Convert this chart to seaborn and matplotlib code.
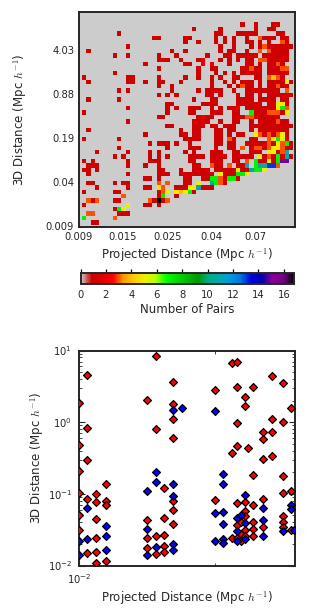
import numpy as np
import pandas as pd
import matplotlib
matplotlib.use("Agg")
import matplotlib.pyplot as plt
from matplotlib.ticker import FixedLocator, NullFormatter
import seaborn as sns

W, H = 316, 616
HEAT_X_LABELS = ["0.009", "0.015", "0.025", "0.04", "0.07"]
HEAT_Y_LABELS = ["0.009", "0.04", "0.19", "0.88", "4.03"]
CBAR_TICKS = [0, 2, 4, 6, 8, 10, 12, 14, 16]

# occupied bins of each row (top row first): bins holding one pair, as "first-last" runs
ONE_PAIR_BINS = {
3: "37 40 44-45",
4: "26 32 40 43-44",
5: "9 31-32 36-40 45-46",
6: "17-18 24-25 31 33 35 38 42-44 46-47",
7: "24 27 31 33 35 38-39 41 43 47",
8: "11 32 35 39 41 43-48",
9: "2 21 24 32 34-35 38 44-47",
10: "8 11 18 22 29 33-34 36-40 42-47",
11: "18-20 23 27 32 34 36 38-39 43-47",
12: "15 24-25 34 38-39 41 43-44 46",
13: "18 27 30-31 37-38 40-41 43-45",
14: "8 27 31 33 35 37-41 43-47",
15: "1 11-12 18 24 27 30 32 35-36 40-41 46",
16: "2 11-12 15 18-19 23 30 33 35 37-39 41 43-46 48",
17: "18 21 30 34 36 38-39 41 43-44 46-47",
18: "9 11 21 27 29-32 35 38-45",
19: "18 20 22 29-30 32 36 38-39 41 43-48",
20: "2 9 26 30-31 36-39 41-44 46-47",
21: "20-21 28-31 36-41 43-44 47",
22: "11 20 22 25-27 30 32 34-35 38-44",
23: "1 20 25-26 30-32 35-36 40-42 46",
24: "18-19 27 29-30 35-37 40-45",
25: "11 26-29 32 35-36 39 41-44 46-47",
26: "20-21 26-28 30-31 33-35 39-48",
27: "2 23 26-27 31-32 34-35 39 41-47",
28: "15 23-24 26-27 31-32 34 36-37 42 44 47",
29: "1 9 24-27 31-32 35 39-40 47",
30: "16 18-20 22 25 31-32 34-35 38-42 44 48",
31: "9 20 25-27 31 34-35 39 42 47-48",
32: "4 11 16 18 24 26 30-32 35-36 39-41 45",
33: "8 10 16 18 20 25-28 30-33 35-39 42 44 46 48",
34: "1 3 11 16-18 25-26 30-32 35-36 41-42 44",
35: "2-4 11 15 18 26-27 31-32 36-37",
36: "1-2 4 18-19 23 26-29 31-35 37-38",
37: "2 11 18-20 23-30 33-35",
38: "15-16 18 24-25 28-29 33 36",
39: "2-3 8 10-11 24-25 33",
40: "4 11 15-16 22-24 28-30",
41: "1 8-9 18 26",
42: "18 22",
43: "3 8-9 17 19",
44: "1 15-16 18",
45: "8",
46: "9-11",
48: "3-4",
}
# bins holding more pairs, as "bin:count" with the count in base 36
BUSY_BINS = {
6: "41:3",
7: "46:3",
8: "42:3",
9: "41:3 43:3",
11: "28:2 41:3 42:3",
12: "28:2 30:2 45:3",
13: "39:3 46:3 47:3",
15: "43:3 44:4 45:3",
16: "47:5",
17: "37:3 45:3",
18: "47:3",
21: "45:5 46:5",
22: "36:2 45:5 46:7 47:3",
23: "39:7 43:3 44:3 45:3 47:5",
24: "28:2 38:3 39:3",
25: "45:3",
28: "40:5 41:3 43:3 45:3 46:5",
29: "34:3 43:3 44:5 45:7 46:5",
30: "43:3 45:5 46:3 47:7",
31: "37:3 40:3 41:3 43:3 44:5 45:5 46:3",
32: "43:5 44:5 46:3 47:b",
33: "41:5 43:3 45:7 47:b",
34: "38:3 40:7 43:5 45:7 46:f 47:f",
35: "30:3 34:3 38:b 40:7 41:b 42:b 43:d 44:d 45:3",
36: "36:5 39:b 40:7 41:7 42:5",
37: "32:5 36:7 37:7 38:5",
38: "30:7 31:7 32:3 34:7 35:7",
39: "18:3 20:3 27:5 30:b 31:7 32:3",
40: "18:5 19:3 25:5 26:5 27:b",
41: "19:3 20:5 22:5 23:4 24:5 25:7",
42: "10:3 19:7",
43: "2:3 4:3 16:3 18:h 20:3",
44: "11:5",
45: "9:7 10:5",
46: "2:3 3:3",
47: "1:7 8:3",
49: "1:5",
}

RED_X = [0.0109, 0.0109, 0.0109, 0.0100, 0.0100, 0.0218, 0.0218, 0.0200, 0.0260, 0.0260, 0.0260, 0.0260,
         0.0398, 0.0472, 0.0472, 0.0497, 0.0497, 0.0497, 0.0497, 0.0541, 0.0541, 0.0590, 0.0560,
         0.0647, 0.0647, 0.0647, 0.0715, 0.0715, 0.0715, 0.0715, 0.0795, 0.0795, 0.0864,
         0.0100, 0.0100, 0.0100, 0.0100, 0.0109, 0.0109, 0.0119, 0.0119, 0.0119, 0.0119, 0.0119, 0.0119,
         0.0131, 0.0131, 0.0131, 0.0131, 0.0200, 0.0200, 0.0200, 0.0218, 0.0218, 0.0238, 0.0238, 0.0238, 0.0238, 0.0238,
         0.0260, 0.0260, 0.0260, 0.0398, 0.0472, 0.0497, 0.0497, 0.0497, 0.0520, 0.0520, 0.0520,
         0.0541, 0.0541, 0.0541, 0.0541, 0.0541, 0.0590, 0.0590, 0.0590, 0.0590, 0.0590,
         0.0647, 0.0647, 0.0795, 0.0795, 0.0795, 0.0795, 0.0795, 0.0864, 0.0864]
RED_Y = [4.57, 0.824, 0.295, 1.84, 0.483, 8.43, 0.798, 2.05, 3.61, 1.80, 1.10, 0.611,
         2.82, 6.59, 0.373, 6.87, 3.08, 0.968, 0.462, 2.21, 1.66, 3.05, 0.433,
         0.724, 0.585, 0.311, 4.38, 1.10, 0.724, 0.339, 3.57, 1.02, 1.60,
         0.205, 0.102, 0.0509, 0.0315, 0.0843, 0.0149, 0.0989, 0.0773, 0.0448, 0.0243, 0.0153, 0.0108,
         0.138, 0.0807, 0.0695, 0.0114, 0.0425, 0.0243, 0.0173, 0.0254, 0.0147, 0.121, 0.0462, 0.0268, 0.0188, 0.0153,
         0.0807, 0.0598, 0.0381, 0.0824, 0.0243, 0.0748, 0.0373, 0.0243, 0.0411, 0.0274, 0.0223,
         0.0766, 0.0567, 0.0483, 0.0308, 0.0254, 0.186, 0.0703, 0.0411, 0.0325, 0.0262,
         0.0843, 0.0343, 0.175, 0.104, 0.0493, 0.0411, 0.0350, 0.109, 0.0315]
BLUE_X = [0.0260, 0.0286, 0.0398, 0.0100, 0.0100, 0.0109, 0.0109, 0.0131, 0.0131, 0.0131, 0.0200, 0.0200, 0.0200,
          0.0218, 0.0218, 0.0218, 0.0260, 0.0260, 0.0260, 0.0260, 0.0398, 0.0398, 0.0434, 0.0434, 0.0434, 0.0434, 0.0434, 0.0434,
          0.0497, 0.0497, 0.0497, 0.0520, 0.0541, 0.0541, 0.0541, 0.0647, 0.0647, 0.0647, 0.0795, 0.0864, 0.0864, 0.0894]
BLUE_Y = [1.50, 1.57, 1.45, 0.0223, 0.0141, 0.0631, 0.0236, 0.0361, 0.0254, 0.0162, 0.111, 0.0328, 0.0141,
          0.199, 0.147, 0.0180, 0.138, 0.0938, 0.0200, 0.0162, 0.0537, 0.0223, 0.190, 0.138, 0.0561, 0.0378, 0.0236, 0.0209,
          0.0457, 0.0305, 0.0223, 0.0509, 0.0968, 0.0390, 0.0233, 0.0631, 0.0425, 0.0256, 0.0305, 0.0703, 0.0611, 0.0315]

sns.set_style("ticks")
plt.rcParams["font.family"] = ["DejaVu Sans"]
plt.rcParams["mathtext.fontset"] = "cm"

def box(l, t, r, b):
    return [l / W, 1 - b / H, (r - l) / W, (b - t) / H]

fig = plt.figure(figsize=(W / 100, H / 100), dpi=100)
ax1 = fig.add_axes(box(79, 12, 295, 227))
cax = fig.add_axes(box(80.5, 273.5, 294, 284))
ax2 = fig.add_axes(box(79, 350.5, 295, 565.5))

N = 50
counts = np.zeros((N, N), dtype=int)
for k, spec in ONE_PAIR_BINS.items():
    for part in spec.split():
        a, _, b = part.partition("-")
        counts[k, int(a):int(b or a) + 1] = 1
for k, spec in BUSY_BINS.items():
    for part in spec.split():
        a, b = part.split(":")
        counts[k, int(a)] = int(b, 36)

sns.heatmap(pd.DataFrame(counts), ax=ax1, cmap="nipy_spectral_r", vmin=0, vmax=16.8, cbar_ax=cax,
            cbar_kws={"orientation": "horizontal", "ticks": CBAR_TICKS}, square=False)
left, right, top, bottom = 0.39, 49.37, 0.62, 49.53
ax1.set_xlim(left, right)
ax1.set_ylim(bottom, top)
ax1.set_xticks([left + 10 * i for i in range(5)], HEAT_X_LABELS, rotation=0)
ax1.set_yticks([bottom - 10 * i for i in range(5)], HEAT_Y_LABELS, rotation=0)
ax1.tick_params(direction="in", top=True, right=True, bottom=True, left=True, length=3, width=0.8,
                labelsize=7.2, pad=3.5)
for s in ax1.spines.values():
    s.set_visible(True)
    s.set_linewidth(1.4)
ax1.set_xlabel(r"Projected Distance (Mpc $h^{-1}$)", fontsize=8.5, labelpad=3)
ax1.set_ylabel(r"3D Distance (Mpc $h^{-1}$)", fontsize=8.5, labelpad=12)

cax.tick_params(direction="in", length=10.5, width=0.9, labelsize=7.2, pad=4.5, bottom=True, color="black")
cax.set_xlabel("Number of Pairs", fontsize=8.5, labelpad=2)
for s in cax.spines.values():
    s.set_visible(True)
    s.set_linewidth(1.2)

sns.scatterplot(x=RED_X, y=RED_Y, ax=ax2, marker="D", s=16, color=(1, 0, 0), edgecolor="black", linewidth=0.9, zorder=3)
sns.scatterplot(x=BLUE_X, y=BLUE_Y, ax=ax2, marker="D", s=16, color=(0, 0, 1), edgecolor="black", linewidth=0.9, zorder=3)
ax2.set_xscale("log")
ax2.set_yscale("log")
ax2.set_xlim(0.01, 0.09)
ax2.set_ylim(0.01, 10)
ax2.xaxis.set_major_locator(FixedLocator([0.01]))
ax2.xaxis.set_minor_locator(FixedLocator([0.04]))
ax2.xaxis.set_minor_formatter(NullFormatter())
ax2.tick_params(which="major", direction="in", top=True, right=True, length=4, width=0.8, labelsize=7.2, pad=5)
ax2.tick_params(which="minor", direction="in", top=True, right=True, length=2, width=0.6)
for s in ax2.spines.values():
    s.set_visible(True)
    s.set_linewidth(1.4)
ax2.set_xlabel(r"Projected Distance (Mpc $h^{-1}$)", fontsize=8.5, labelpad=2)
ax2.set_ylabel(r"3D Distance (Mpc $h^{-1}$)", fontsize=8.5, labelpad=1)

fig.savefig("out.png", dpi=100)
